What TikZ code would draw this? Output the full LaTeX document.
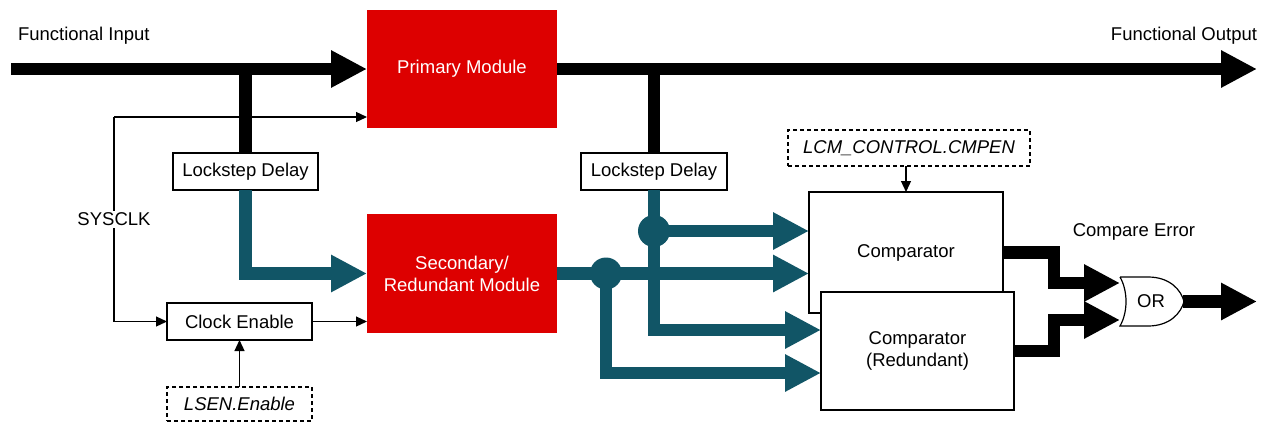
\documentclass[tikz,border=0pt]{standalone}
\usepackage{fontspec}
\setmainfont{Liberation Sans}
\usetikzlibrary{arrows.meta,calc}
\definecolor{tired}{RGB}{221,0,0}
\definecolor{titeal}{RGB}{17,85,102}
\begin{document}
\begin{tikzpicture}[x=1pt,y=-1pt,
  font=\fontsize{18.5}{22}\selectfont,
  every node/.style={inner sep=0pt, outer sep=0pt},
  redbox/.style={fill=tired, text=white, align=center},
  plainbox/.style={draw=black, line width=2pt, fill=white, align=center},
  dashbox/.style={draw=black, line width=2pt, dash pattern=on 4pt off 3pt, fill=white, font=\fontsize{18.5}{22}\selectfont\itshape},
  bus/.style={line width=12.5pt, -{Triangle[length=36pt,width=35pt]}},
  blackbus/.style={bus, draw=black},
  tealbus/.style={bus, draw=titeal},
  thickline/.style={line width=12.5pt},
  thinline/.style={line width=1.2pt},
  thinarr/.style={thinline, -{Triangle[length=11pt,width=10pt]}},
  tdot/.style={circle, fill=titeal, minimum size=32pt}
]
\useasboundingbox (0,0) rectangle (1265,423);

% boxes
\node[redbox, minimum width=190pt, minimum height=118pt] (prim) at (462,69) {Primary Module};
\node[redbox, minimum width=190pt, minimum height=119pt] (sec) at (462,273.5) {Secondary/\\Redundant Module};
\node[plainbox, minimum width=145pt, minimum height=37pt] (lsd1) at (245.5,171.5) {Lockstep Delay};
\node[plainbox, minimum width=145pt, minimum height=37pt] (clken) at (239.5,321.5) {Clock Enable};
\node[dashbox, minimum width=145pt, minimum height=34pt] (lsen) at (239.5,404) {LSEN.Enable};
\node[plainbox, minimum width=146pt, minimum height=37pt] (lsd2) at (654,171.5) {Lockstep Delay};
\node[dashbox, minimum width=242pt, minimum height=36pt] (cmpen) at (909,148) {LCM\_CONTROL.CMPEN};
\node[plainbox, minimum width=194pt, minimum height=121pt] (cmp) at (906,252.5) {Comparator};
\node[plainbox, minimum width=193pt, minimum height=118pt] (cmpr) at (917.5,351) {Comparator\\(Redundant)};

% labels
\node[anchor=west] (fin) at (18,36) {Functional Input};
\node[anchor=east] (fout) at (1257,36) {Functional Output};
\node (cerr) at (1134,232) {Compare Error};

% coordinates
\coordinate (in) at (11,69);
\coordinate (out) at (1257,69);
\coordinate (j1) at (245.5,69);
\coordinate (j2) at (654,69);
\coordinate (ck1) at (114,117);
\coordinate (ck2) at (114,321.5);
\coordinate (d1) at (654,231);
\coordinate (d2) at (606,273.5);
\coordinate (y330) at (0,330);
\coordinate (y373) at (0,373);
\coordinate (m1) at (1054,0);
\coordinate (or1) at (1120,283);
\coordinate (or2) at (1120,320);
\coordinate (orout) at (1183,301.5);
\coordinate (eout) at (1257,301.5);

% SYSCLK
\draw[thinarr] (ck1) -- (ck1 -| prim.west);
\draw[thinline] (ck1) -- node[fill=white, inner sep=2pt] (sysclk) {SYSCLK} (ck2);
\draw[thinarr] (ck2) -- (clken.west);
\draw[thinarr] (clken.east) -- (clken.east -| sec.west);
\draw[thinarr] (lsen.north) -- (clken.south);
\draw[thinarr] (cmp.north |- cmpen.south) -- (cmp.north);

% black buses
\draw[thickline] (j1) -- (lsd1.north);
\draw[thickline] (j2) -- (lsd2.north);
\draw[blackbus] (in) -- (prim.west);
\draw[blackbus] (prim.east) -- (out);

% teal buses
\draw[tealbus] (lsd1.south) |- (sec.west);
\draw[tealbus] (sec.east) -- (sec.east -| cmp.west);
\draw[tealbus] (lsd2.south) |- (y330 -| cmpr.west);
\draw[tealbus] (d1) -- (d1 -| cmp.west);
\draw[tealbus] (d2) |- (y373 -| cmpr.west);
\node[tdot] (dot1) at (d1) {};
\node[tdot] (dot2) at (d2) {};

% OR gate
\draw[thinline, fill=white] (1120,277) -- (1148,277)
  .. controls (1170,277) and (1181,290) .. (1184,301.5)
  .. controls (1181,313) and (1170,326) .. (1148,326)
  -- (1120,326) .. controls (1128,312) and (1128,291) .. (1120,277);
\node (orgate) at (1151,301.5) {OR};

\draw[blackbus] (cmp.east) -| (m1 |- or1) -- (or1);
\draw[blackbus] (cmpr.east) -| (m1 |- or2) -- (or2);
\draw[blackbus] (orout) -- (eout);
\end{tikzpicture}
\end{document}
